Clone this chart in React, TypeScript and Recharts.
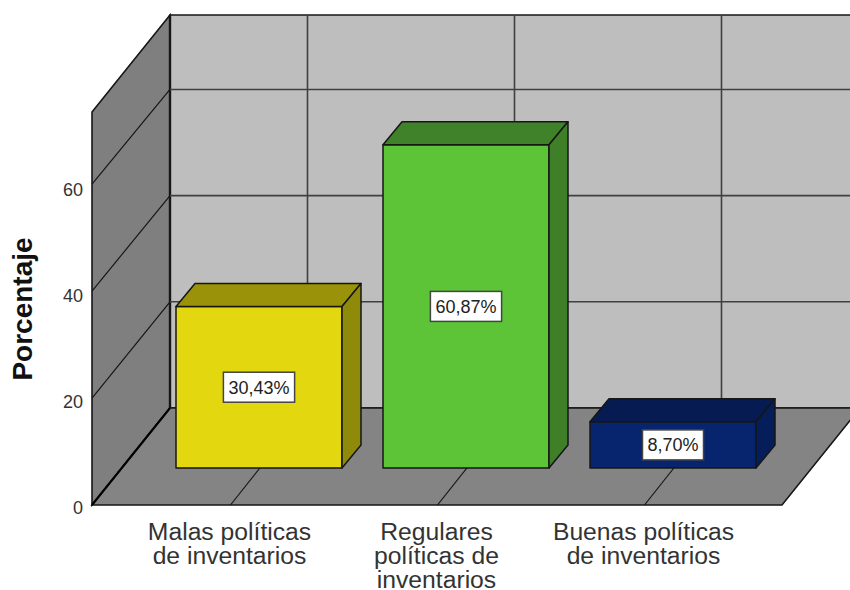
import { BarChart, Bar, XAxis, YAxis, CartesianGrid, LabelList } from 'recharts'

const categories = ['Malas políticas\nde inventarios', 'Regulares\npolíticas de\ninventarios', 'Buenas políticas\nde inventarios']
const percentages = [30.43, 60.87, 8.7]
const yTicks = [0, 20, 40, 60]

const data = categories.map((name, i) => ({ name, value: percentages[i] }))

const faceColors = ['#e3d80f', '#5ec437', '#07256f']
const topColors = ['#9a9208', '#40822a', '#051b52']
const sideColors = ['#8f8a0a', '#3f7f27', '#051d58']

const FONT = '"Liberation Sans", Arial, sans-serif'
const WIDTH = 850
const HEIGHT = 590
const LEFT = 92
const RIGHT = 782
const TOP = 112
const BOTTOM = 505
// depth of the box the chart sits in
const BOX_DX = 78
const BOX_DY = 97
// things further back come out slightly shorter
const DEPTH_SHRINK = 0.993
// bars stand inside the box, and have a depth of their own
const BAR_DX = 28
const BAR_DY = 37
const BAR_DEPTH_X = 19
const BAR_DEPTH_Y = 23
const LINE = '#161616'
const GRID = '#404040'

const pts = (list: number[][]) => list.map((p) => p.join(',')).join(' ')

const Box3D = (props: any) => {
  const { x, y, width, height, index } = props
  const h = height * DEPTH_SHRINK
  const x0 = x + BAR_DX
  const x1 = x0 + width
  const yb = y + height - BAR_DY
  const yt = yb - h
  return (
    <g stroke={LINE} strokeWidth={1.5} strokeLinejoin="round">
      <polygon fill={faceColors[index]} points={pts([[x0, yt], [x1, yt], [x1, yb], [x0, yb]])} />
      <polygon fill={topColors[index]} points={pts([[x0, yt], [x0 + BAR_DEPTH_X, yt - BAR_DEPTH_Y], [x1 + BAR_DEPTH_X, yt - BAR_DEPTH_Y], [x1, yt]])} />
      <polygon fill={sideColors[index]} points={pts([[x1, yt], [x1 + BAR_DEPTH_X, yt - BAR_DEPTH_Y], [x1 + BAR_DEPTH_X, yb - BAR_DEPTH_Y], [x1, yb]])} />
    </g>
  )
}

const ValueLabel = (props: any) => {
  const { x, y, width, height, value } = props
  const text = `${Number(value).toFixed(2).replace('.', ',')}%`
  const cx = x + BAR_DX + width / 2
  const cy = y + height - BAR_DY - (height * DEPTH_SHRINK) / 2
  const boxW = text.length * 10.2 + 10
  return (
    <g>
      <rect x={cx - boxW / 2} y={cy - 15} width={boxW} height={30} fill="#fff" stroke="#444" strokeWidth={1.5} />
      <text x={cx} y={cy + 6.5} textAnchor="middle" fontFamily={FONT} fontSize={18} fill="#222">{text}</text>
    </g>
  )
}

const CategoryTick = (props: any) => {
  const { x, payload } = props
  const lines = String(payload.value).split('\n')
  return (
    <g>
      {lines.map((line, i) => (
        <text key={i} x={x - 1} y={540 + i * 24} textAnchor="middle" fontFamily={FONT} fontSize={24.7} fill="#333">{line}</text>
      ))}
    </g>
  )
}

const ValueTick = (props: any) => {
  const { y, payload } = props
  return (
    <text x={83} y={y + 8.5 + payload.value * 0.05} textAnchor="end" fontFamily={FONT} fontSize={18} fill="#333">{payload.value}</text>
  )
}

const FloorAndBackLine = (props: any) => {
  const x = props.x1
  const backX = x + BOX_DX - 1
  return (
    <g>
      <line x1={x} y1={BOTTOM} x2={backX} y2={BOTTOM - BOX_DY} stroke={LINE} strokeWidth={1.2} />
      <line x1={backX} y1={BOTTOM - BOX_DY} x2={backX} y2={TOP - BOX_DY} stroke={GRID} strokeWidth={1.6} />
    </g>
  )
}

const WallAndBackLine = (props: any) => {
  const y = props.y1
  if (Math.abs(y - BOTTOM) < 1) return <g />
  const backY = BOTTOM - BOX_DY - (BOTTOM - y) * DEPTH_SHRINK
  return (
    <g>
      <line x1={LEFT} y1={y} x2={LEFT + BOX_DX} y2={backY} stroke={LINE} strokeWidth={1.2} />
      <line x1={LEFT + BOX_DX} y1={backY} x2={WIDTH + 10} y2={backY} stroke={GRID} strokeWidth={1.6} />
    </g>
  )
}

// back wall, side wall and floor sit under the transparent chart
const Walls = () => (
  <svg width={WIDTH} height={HEIGHT} style={{ position: 'absolute', left: 0, top: 0 }}>
    <polygon points={pts([[LEFT + BOX_DX, TOP - BOX_DY], [WIDTH + 10, TOP - BOX_DY], [WIDTH + 10, BOTTOM - BOX_DY], [LEFT + BOX_DX, BOTTOM - BOX_DY]])} fill="#bebebe" stroke={LINE} strokeWidth={1.5} />
    <polygon points={pts([[LEFT, TOP], [LEFT + BOX_DX, TOP - BOX_DY], [LEFT + BOX_DX, BOTTOM - BOX_DY], [LEFT, BOTTOM]])} fill="#7f7f7f" stroke={LINE} strokeWidth={1.6} />
    <polygon points={pts([[LEFT, BOTTOM], [LEFT + BOX_DX, BOTTOM - BOX_DY], [RIGHT + BOX_DX, BOTTOM - BOX_DY], [RIGHT, BOTTOM]])} fill="#848484" stroke={LINE} strokeWidth={1.6} />
    <line x1={LEFT + BOX_DX} y1={TOP - BOX_DY} x2={LEFT + BOX_DX} y2={BOTTOM - BOX_DY} stroke={LINE} strokeWidth={2.4} />
    <line x1={LEFT} y1={BOTTOM} x2={LEFT + BOX_DX} y2={BOTTOM - BOX_DY} stroke="#000" strokeWidth={2} />
  </svg>
)

export default function App() {
  return (
    <div style={{ position: 'absolute', left: 0, top: 0, width: WIDTH, height: HEIGHT, background: '#fff', overflow: 'hidden' }}>
      <Walls />
      <div style={{ position: 'absolute', left: 0, top: 0 }}>
        <BarChart
          width={WIDTH}
          height={HEIGHT}
          data={data}
          margin={{ top: TOP, right: WIDTH - RIGHT, bottom: HEIGHT - BOTTOM - 1, left: LEFT - 1 }}
        >
          <text
            transform="translate(32,309) rotate(-90)"
            textAnchor="middle"
            fontFamily={FONT}
            fontSize={28}
            fontWeight="bold"
            fill="#111"
          >
            Porcentaje
          </text>
          <CartesianGrid vertical={<FloorAndBackLine />} horizontal={<WallAndBackLine />} syncWithTicks />
          <XAxis
            dataKey="name"
            height={1}
            interval={0}
            axisLine={false}
            tickLine={false}
            padding={{ left: 35, right: 34 }}
            tick={<CategoryTick />}
          />
          <YAxis
            width={1}
            domain={[0, 73.5]}
            ticks={yTicks}
            axisLine={false}
            tickLine={false}
            tick={<ValueTick />}
          />
          <Bar dataKey="value" barSize={166} isAnimationActive={false} shape={<Box3D />}>
            <LabelList dataKey="value" content={<ValueLabel />} />
          </Bar>
        </BarChart>
      </div>
    </div>
  )
}
